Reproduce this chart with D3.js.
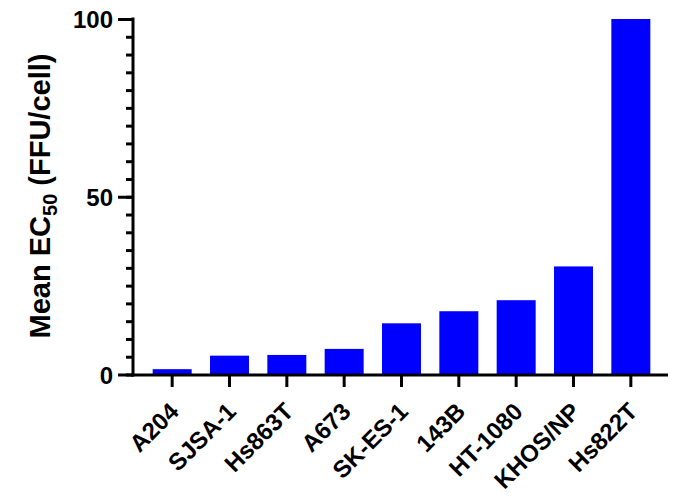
<!DOCTYPE html>
<html>
<head>
<meta charset="utf-8">
<script src="https://cdn.jsdelivr.net/npm/d3@7"></script>
<style>
  body { margin: 0; background: #fff; }
  svg text { font-family: "Liberation Sans", Arial, sans-serif; font-weight: bold; fill: #000; }
</style>
</head>
<body>
<div class="view"></div>
<script>
const cellLines = ['A204', 'SJSA-1', 'Hs863T', 'A673', 'SK-ES-1', '143B', 'HT-1080', 'KHOS/NP', 'Hs822T']
const meanEC50 = [1.5, 5.3, 5.5, 7.2, 14.4, 17.8, 20.9, 30.4, 100]
const majorTicks = [0, 50, 100]
const minorTicks = d3.range(0, 101, 5)

const w = 676
const h = 498
const axisX = 133
const axisY = 375

const svg = d3.select('.view')
  .append('svg')
  .attr('width', w)
  .attr('height', h)

// 比例尺
const xScale = d3.scaleBand()
  .domain(cellLines)
  .range([143.5, 659.5])
  .paddingInner(0.32)
  .paddingOuter(0.16)

const yScale = d3.scaleLinear()
  .domain([0, 100])
  .range([374.5, 19])

// 柱子
svg.selectAll('rect.bar')
  .data(cellLines)
  .enter()
  .append('rect')
  .attr('class', 'bar')
  .attr('x', d => xScale(d))
  .attr('y', (d, i) => yScale(meanEC50[i]))
  .attr('width', xScale.bandwidth())
  .attr('height', (d, i) => yScale(0) - yScale(meanEC50[i]))
  .attr('fill', '#0000ff')

// y 轴 (次刻度)
const yMinor = d3.axisLeft(yScale)
  .tickValues(minorTicks)
  .tickSize(7)
  .tickFormat('')
svg.append('g')
  .attr('class', 'y-minor')
  .attr('transform', 'translate(' + axisX + ',0)')
  .call(yMinor)

const yAxis = d3.axisLeft(yScale)
  .tickValues(majorTicks)
  .tickSize(15)
  .tickPadding(5)
svg.append('g')
  .attr('class', 'y-axis')
  .attr('transform', 'translate(' + axisX + ',0)')
  .call(yAxis)

svg.selectAll('.y-minor line, .y-axis line')
  .attr('stroke', '#000')
  .attr('stroke-width', 3)
svg.selectAll('.y-axis path, .y-minor path').remove()

svg.append('line')
  .attr('x1', axisX).attr('x2', axisX)
  .attr('y1', yScale(100) - 1.5).attr('y2', axisY + 1.5)
  .attr('stroke', '#000')
  .attr('stroke-width', 3)

svg.select('.y-axis')
  .selectAll('text')
  .attr('font-size', 24)
  .attr('dy', '0.36em')

// x 轴
const xAxis = d3.axisBottom(xScale).tickSize(12).tickFormat('')
svg.append('g')
  .attr('class', 'x-axis')
  .attr('transform', 'translate(0,' + axisY + ')')
  .call(xAxis)
svg.select('.x-axis path').remove()
svg.selectAll('.x-axis line')
  .attr('stroke', '#000')
  .attr('stroke-width', 3)

svg.append('line')
  .attr('x1', axisX - 1.5).attr('x2', 668)
  .attr('y1', axisY).attr('y2', axisY)
  .attr('stroke', '#000')
  .attr('stroke-width', 3)

// x 标签
svg.selectAll('text.xlabel')
  .data(cellLines)
  .enter()
  .append('text')
  .attr('class', 'xlabel')
  .attr('font-size', 24)
  .attr('text-anchor', 'end')
  .attr('transform', d => 'translate(' + (xScale(d) + xScale.bandwidth() / 2 + 8) + ',' + 413 + ') rotate(-45)')
  .text(d => d)

// y 轴标题
const title = svg.append('text')
  .attr('class', 'y-label')
  .attr('font-size', 29)
  .attr('text-anchor', 'middle')
  .attr('transform', 'translate(50,196) rotate(-90)')
title.append('tspan').text('Mean EC')
title.append('tspan').attr('font-size', 20).attr('dy', 7).text('50')
title.append('tspan').attr('dy', -7).text(' (FFU/cell)')
</script>
</body>
</html>
